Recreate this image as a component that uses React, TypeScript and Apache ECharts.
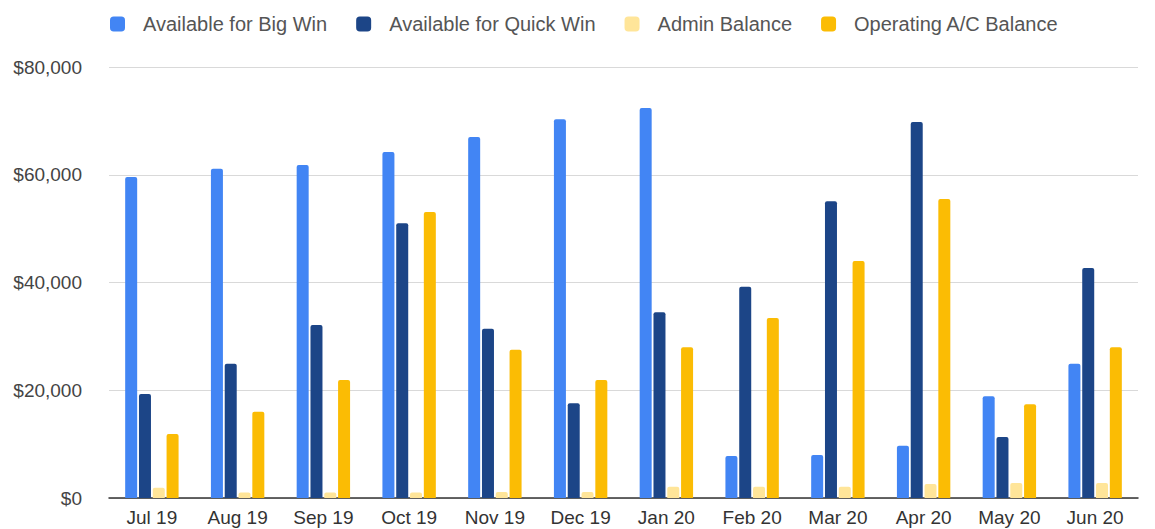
import React, { useEffect, useRef } from "react";
import * as echarts from "echarts";

const categories = ["Jul 19", "Aug 19", "Sep 19", "Oct 19", "Nov 19", "Dec 19", "Jan 20", "Feb 20", "Mar 20", "Apr 20", "May 20", "Jun 20"];
const bigWin = [59600, 61100, 61800, 64200, 67000, 70300, 72400, 7800, 8000, 9700, 18900, 24900];
const quickWin = [19300, 24900, 32100, 51000, 31400, 17600, 34500, 39200, 55100, 69800, 11300, 42700];
const adminBalance = [1900, 1000, 1000, 1000, 1100, 1100, 2100, 2100, 2100, 2600, 2800, 2800];
const operatingBalance = [11900, 16000, 21900, 53100, 27500, 21900, 28000, 33400, 44000, 55500, 17400, 28000];

const seriesNames = ["Available for Big Win", "Available for Quick Win", "Admin Balance", "Operating A/C Balance"];
const colors = ["#4285F4", "#1C4587", "#FFE599", "#FBBC04"];

export default function App() {
  const ref = useRef<HTMLDivElement>(null);
  useEffect(() => {
    if (!ref.current) return;
    const chart = echarts.init(ref.current, null, { renderer: "svg" });
    const dataSets = [bigWin, quickWin, adminBalance, operatingBalance];
    chart.setOption({
      animation: false,
      color: colors,
      textStyle: { fontFamily: "Liberation Sans, Arial, sans-serif" },
      legend: {
        top: 9,
        left: 105,
        itemWidth: 15,
        itemHeight: 15,
        itemGap: 29,
        icon: "roundRect",
        textStyle: { fontSize: 20, color: "#555", padding: [0, 0, 0, 13] },
        data: seriesNames,
      },
      grid: { left: 109, right: 17, top: 67, bottom: 31 },
      xAxis: {
        type: "category",
        data: categories,
        axisTick: { show: false },
        axisLine: { lineStyle: { color: "#333", width: 1.5 } },
        axisLabel: { fontSize: 19, color: "#333", margin: 10 },
      },
      yAxis: {
        type: "value",
        min: 0,
        max: 80000,
        interval: 20000,
        axisLabel: {
          fontSize: 19,
          color: "#444",
          margin: 27,
          formatter: (v: number) => "$" + v.toLocaleString("en-US"),
        },
        splitLine: { lineStyle: { color: "#d9d9d9", width: 1 } },
      },
      series: seriesNames.map((name, i) => ({
        name,
        type: "bar",
        data: dataSets[i],
        barWidth: 12,
        barGap: "15%",
        itemStyle: { color: colors[i], borderRadius: [2, 2, 0, 0] },
      })),
    });
    return () => chart.dispose();
  }, []);
  return <div ref={ref} style={{ width: 1155, height: 529, position: "absolute", left: 0, top: 0 }} />;
}
